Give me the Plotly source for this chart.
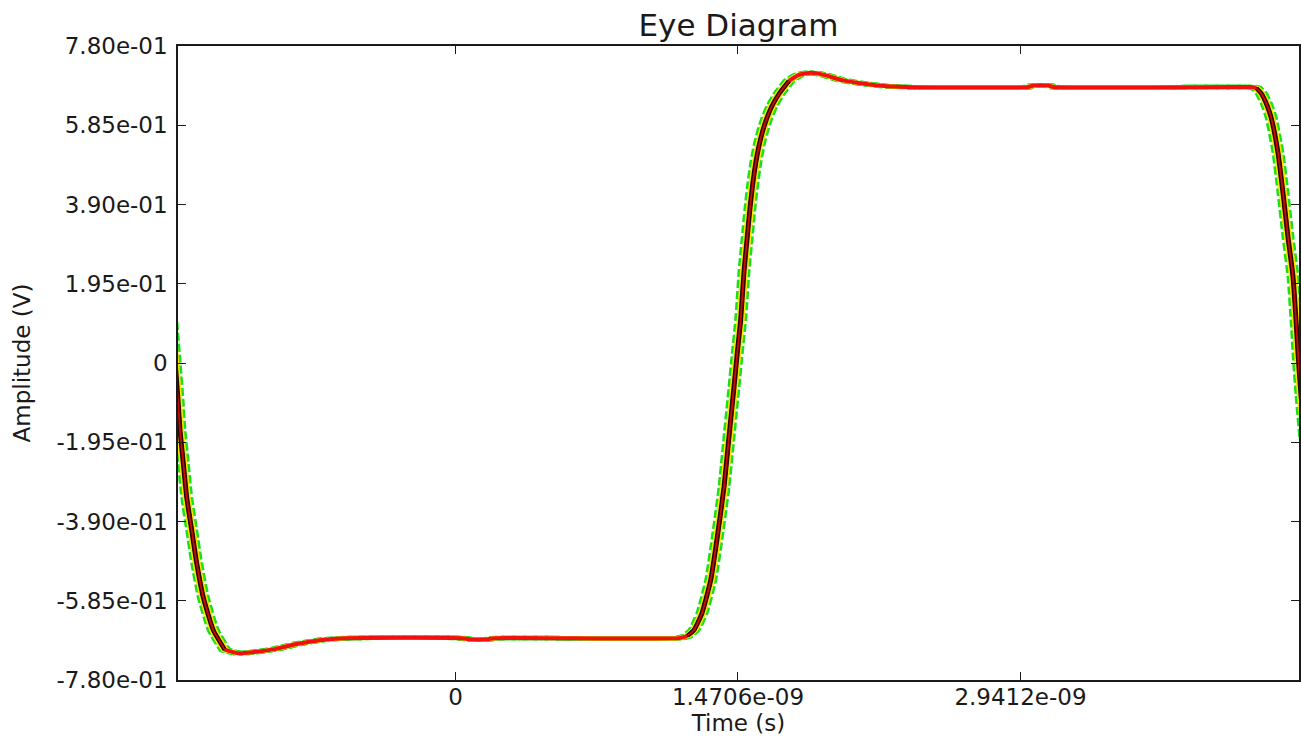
import numpy as np
import plotly.graph_objects as go

# ---- data (time in ns, amplitude in V) ----
fall_left_ns = [-1.4862, -1.4602, -1.4446, -1.4342, -1.4171, -1.3994, -1.3734,
                -1.3474, -1.3132, -1.2612, -1.2004]
fall_left_v = [0.155, 0.007, -0.091, -0.165, -0.246, -0.330, -0.411,
               -0.492, -0.576, -0.657, -0.706]

low_ns = [-1.2004, -1.1328, -1.0445, -0.9406, -0.8210, -0.7067, -0.5768,
          0.0364, 0.0728, 0.1663, 0.2027, 1.1640, 1.2056]
low_v = [-0.706, -0.714, -0.711, -0.704, -0.691, -0.682, -0.677,
         -0.677, -0.680, -0.680, -0.677, -0.677, -0.672]

rise_ns = [1.2056, 1.2420, 1.2835, 1.3287, 1.3630, 1.3979, 1.4238, 1.4498,
           1.4670, 1.4846, 1.5018, 1.5174, 1.5330, 1.5486, 1.5641, 1.5797,
           1.6005, 1.6213, 1.6473, 1.6837, 1.7356]
rise_v = [-0.672, -0.657, -0.615, -0.534, -0.428, -0.305, -0.182, -0.059,
          0.025, 0.106, 0.224, 0.303, 0.381, 0.445, 0.495, 0.534,
          0.573, 0.603, 0.632, 0.662, 0.694]

high_ns = [1.7356, 1.7876, 1.8500, 1.9175, 2.0110, 2.0994, 2.2189, 2.3436,
           2.9828, 3.0088, 3.0867, 3.1127, 4.1416, 4.1676]
high_v = [0.694, 0.709, 0.714, 0.709, 0.696, 0.689, 0.682, 0.679,
          0.679, 0.683, 0.683, 0.679, 0.679, 0.677]

fall_right_ns = [4.1676, 4.1936, 4.2196, 4.2455, 4.2819, 4.3079, 4.3339,
                 4.3599, 4.3755, 4.3858, 4.4014, 4.4222]
fall_right_v = [0.677, 0.664, 0.640, 0.605, 0.517, 0.418, 0.310,
                0.212, 0.106, 0.025, -0.079, -0.189]

# timing spread of the traces around the centre (ps)
green_jitter_ps = [-22, -15, 15, 22]
yellow_jitter_ps = [-12, -7, 7, 12]
black_jitter_ps = [-5, -2, 2, 5]

y_tick_vals = [0.78, 0.585, 0.39, 0.195, 0.0, -0.195, -0.39, -0.585, -0.78]
y_tick_text = ["7.80e-01", "5.85e-01", "3.90e-01", "1.95e-01", "0",
               "-1.95e-01", "-3.90e-01", "-5.85e-01", "-7.80e-01"]
x_tick_vals = [0.0, 1.4706e-09, 2.9412e-09]
x_tick_text = ["0", "1.4706e-09", "2.9412e-09"]

# ---- build ----
full_ns = np.array(fall_left_ns + low_ns + rise_ns + high_ns + fall_right_ns)
full_v = np.array(fall_left_v + low_v + rise_v + high_v + fall_right_v)
t_full = full_ns * 1e-9

transitions = [(fall_left_ns, fall_left_v), (rise_ns, rise_v),
               (fall_right_ns, fall_right_v)]
flats = [(low_ns, low_v), (high_ns, high_v)]

fig = go.Figure()

line_kw = dict(shape="spline", smoothing=0.5)

for j in green_jitter_ps:
    fig.add_trace(go.Scatter(x=t_full + j * 1e-12, y=full_v, mode="lines",
                             line=dict(color="#19e019", width=4.5,
                                       dash="8px,3px", **line_kw),
                             hoverinfo="skip"))
for j in yellow_jitter_ps:
    fig.add_trace(go.Scatter(x=t_full + j * 1e-12, y=full_v, mode="lines",
                             line=dict(color="#f7e600", width=3.5, **line_kw),
                             hoverinfo="skip"))
for ns, v in transitions:
    t = np.array(ns) * 1e-9
    for j in black_jitter_ps:
        fig.add_trace(go.Scatter(x=t + j * 1e-12, y=v, mode="lines",
                                 line=dict(color="#2a0800", width=3, **line_kw),
                                 hoverinfo="skip"))
for ns, v in flats:
    fig.add_trace(go.Scatter(x=np.array(ns) * 1e-9, y=v, mode="lines",
                             line=dict(color="#f01010", width=4, **line_kw),
                             hoverinfo="skip"))
for ns, v in transitions:
    fig.add_trace(go.Scatter(x=np.array(ns) * 1e-9, y=v, mode="lines",
                             line=dict(color="#c80c0c", width=1.8, **line_kw),
                             hoverinfo="skip"))

axis_common = dict(showline=True, linecolor="#1a1a1a", linewidth=1.5,
                   mirror="ticks", ticks="inside", ticklen=8, tickwidth=1.2,
                   tickcolor="#1a1a1a", showgrid=False, zeroline=False,
                   tickfont=dict(size=23, color="#1a1a1a"))

fig.update_layout(
    width=1301, height=740,
    margin=dict(l=178, r=0, t=46, b=60),
    paper_bgcolor="white", plot_bgcolor="white",
    showlegend=False,
    font=dict(family="DejaVu Sans", size=23, color="#1a1a1a"),
    title=dict(text="Eye Diagram", x=0.5, xref="paper", xanchor="center",
               y=1 - 25 / 740, yref="container", yanchor="middle",
               font=dict(size=31, color="#1a1a1a")),
    xaxis=dict(range=[-1.4446e-09, 4.3911e-09], tickvals=x_tick_vals,
               ticktext=x_tick_text, ticklabelstandoff=-4,
               title=dict(text="Time (s)", standoff=0,
                          font=dict(size=23, color="#1a1a1a")),
               **axis_common),
    yaxis=dict(range=[-0.78, 0.78], tickvals=y_tick_vals,
               ticktext=y_tick_text, ticklabelstandoff=4,
               title=dict(text="Amplitude (V)", standoff=19,
                          font=dict(size=23, color="#1a1a1a")),
               **axis_common),
)

fig.write_html("out.html")
